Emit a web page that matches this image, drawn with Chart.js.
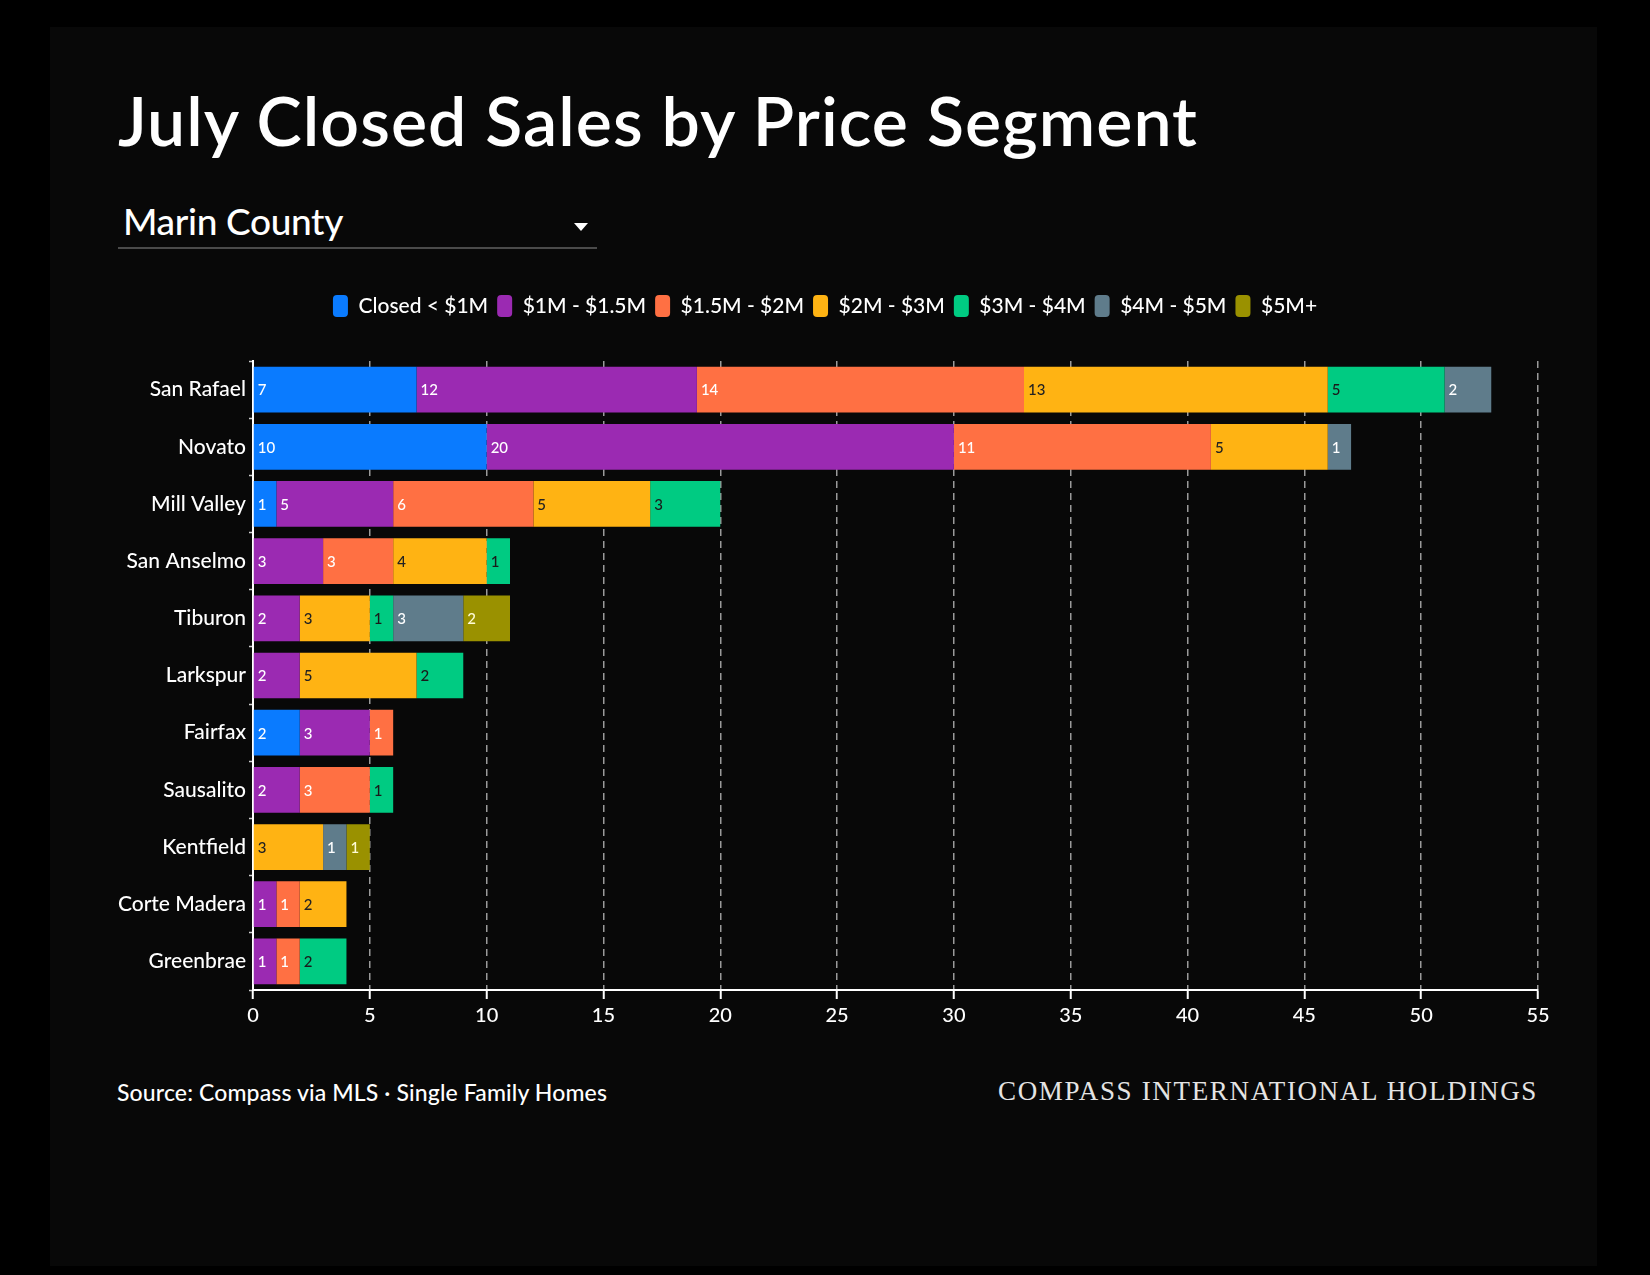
<!DOCTYPE html>
<html>
<head>
<meta charset="utf-8">
<script src="https://cdn.jsdelivr.net/npm/chart.js@4.4.1/dist/chart.umd.min.js"></script>
<style>
  html, body { margin: 0; padding: 0; background: #000; }
  body { width: 1650px; height: 1275px; position: relative; overflow: hidden; font-family: Lato, "Noto Sans", sans-serif; color: #fff; }
  #panel { position: absolute; left: 50px; top: 27px; width: 1547px; height: 1239px; background: #080808; }
  .txt { position: absolute; white-space: nowrap; line-height: 1; }
  #title { left: 118px; top: 86px; font-size: 68px; font-weight: 600; }
  #county { left: 123px; top: 202px; font-size: 37px; font-weight: 500; }
  #underline { position: absolute; left: 118px; top: 247px; width: 479px; height: 2px; background: #4a4a4a; }
  #arrow { position: absolute; left: 574px; top: 223px; width: 0; height: 0;
           border-left: 7px solid transparent; border-right: 7px solid transparent; border-top: 8px solid #fff; }
  #source { left: 117px; top: 1081px; font-size: 23px; font-weight: 500; }
  #brand { left: 998px; top: 1078px; font-size: 27px; font-family: "Liberation Serif", serif; color: #e4e4e4; }
  #wrap { position: absolute; left: 0; top: 286px; width: 1650px; height: 744px; }
</style>
</head>
<body>
<div id="panel"></div>
<div class="txt" id="title">July Closed Sales by Price Segment</div>
<div class="txt" id="county">Marin County</div>
<div id="arrow"></div>
<div id="underline"></div>
<div id="wrap"><canvas id="chart"></canvas></div>
<div class="txt" id="source">Source: Compass via MLS · Single Family Homes</div>
<div class="txt" id="brand">COMPASS INTERNATIONAL HOLDINGS</div>

<script>
// towns, top to bottom
const towns = ['San Rafael', 'Novato', 'Mill Valley', 'San Anselmo', 'Tiburon', 'Larkspur',
               'Fairfax', 'Sausalito', 'Kentfield', 'Corte Madera', 'Greenbrae'];

// closed sales per price segment, same order as towns
const under1M  = [7, 10, 1, 0, 0, 0, 2, 0, 0, 0, 0];
const m1to15   = [12, 20, 5, 3, 2, 2, 3, 2, 0, 1, 1];
const m15to2   = [14, 11, 6, 3, 0, 0, 1, 3, 0, 1, 1];
const m2to3    = [13, 5, 5, 4, 3, 5, 0, 0, 3, 2, 0];
const m3to4    = [5, 0, 3, 1, 1, 2, 0, 1, 0, 0, 2];
const m4to5    = [2, 1, 0, 0, 3, 0, 0, 0, 1, 0, 0];
const m5plus   = [0, 0, 0, 0, 2, 0, 0, 0, 1, 0, 0];

const segmentNames = ['Closed < $1M', '$1M - $1.5M', '$1.5M - $2M', '$2M - $3M', '$3M - $4M', '$4M - $5M', '$5M+'];
const segmentData = [under1M, m1to15, m15to2, m2to3, m3to4, m4to5, m5plus];
const segmentColors = ['#0a7bff', '#9b2ab2', '#ff7043', '#ffb313', '#00cb82', '#5f7c8b', '#9a9100'];
const labelColors = ['#fff', '#fff', '#fff', '#222', '#1a1a1a', '#fff', '#fffbd6'];

const xMax = 55;
const xStep = 5;

// letter spacing so a line of text spans the width seen in the picture
function fitText(id, target) {
    const el = document.getElementById(id);
    const w = el.getBoundingClientRect().width;
    const n = el.textContent.length;
    el.style.letterSpacing = ((target - w) / n) + 'px';
}

// value written at the left edge of each segment
const barLabels = {
    id: 'barLabels',
    afterDatasetsDraw(chart) {
        const ctx = chart.ctx;
        ctx.save();
        ctx.font = '500 15px Lato';
        ctx.textAlign = 'left';
        ctx.textBaseline = 'middle';
        chart.data.datasets.forEach((ds, i) => {
            chart.getDatasetMeta(i).data.forEach((bar, j) => {
                const v = ds.data[j];
                if (!v) return;
                ctx.fillStyle = labelColors[i];
                ctx.fillText(String(v), bar.base + 4, bar.y + 1);
            });
        });
        ctx.restore();
    }
};

// leave room between legend and plot
const legendSpace = {
    id: 'legendSpace',
    afterInit(chart) {
        const fit = chart.legend.fit;
        chart.legend.fit = function () { fit.call(this); this.height = 75; };
    }
};

const fontLoads = ['500 21px Lato', '600 68px Lato', '500 15px Lato', '400 27px "Liberation Serif"']
    .map(f => document.fonts.load(f));

Promise.all(fontLoads).then(() => document.fonts.ready).then(() => {
    fitText('title', 1080);
    fitText('county', 220);
    fitText('source', 490);
    fitText('brand', 540);

    const tickFont = { family: 'Lato', size: 20, weight: '500' };

    new Chart(document.getElementById('chart'), {
        type: 'bar',
        data: {
            labels: towns,
            datasets: segmentNames.map((name, i) => ({
                label: name,
                data: segmentData[i],
                backgroundColor: segmentColors[i],
                borderWidth: 0,
                barPercentage: 0.8,
                categoryPercentage: 1
            }))
        },
        options: {
            indexAxis: 'y',
            responsive: true,
            maintainAspectRatio: false,
            animation: false,
            layout: { padding: { left: 112, right: 112, top: 0, bottom: 0 } },
            plugins: {
                legend: {
                    position: 'top',
                    labels: {
                        color: '#fff',
                        font: { family: 'Lato', size: 21, weight: '500' },
                        boxWidth: 15,
                        boxHeight: 22,
                        useBorderRadius: true,
                        borderRadius: 4,
                        padding: 9
                    }
                },
                tooltip: { enabled: false }
            },
            scales: {
                x: {
                    stacked: true,
                    min: 0,
                    max: xMax,
                    ticks: { stepSize: xStep, color: '#fff', font: tickFont, padding: 5 },
                    grid: { color: '#9a9a9a', lineWidth: 1.5, tickColor: '#fff', tickLength: 9, tickWidth: 2, tickBorderDash: [] },
                    border: { color: '#fff', width: 2, dash: [7, 5] },
                    afterFit(s) { s.height = 40; }
                },
                y: {
                    stacked: true,
                    ticks: { color: '#fff', font: { family: 'Lato', size: 21, weight: '500' }, padding: 3, autoSkip: false },
                    grid: { drawOnChartArea: false, tickLength: 4, tickColor: '#cfcfcf', tickWidth: 1.5 },
                    border: { color: '#fff', width: 2 },
                    afterFit(s) { s.width = 141; }
                }
            }
        },
        plugins: [barLabels, legendSpace]
    });
});
</script>
</body>
</html>
